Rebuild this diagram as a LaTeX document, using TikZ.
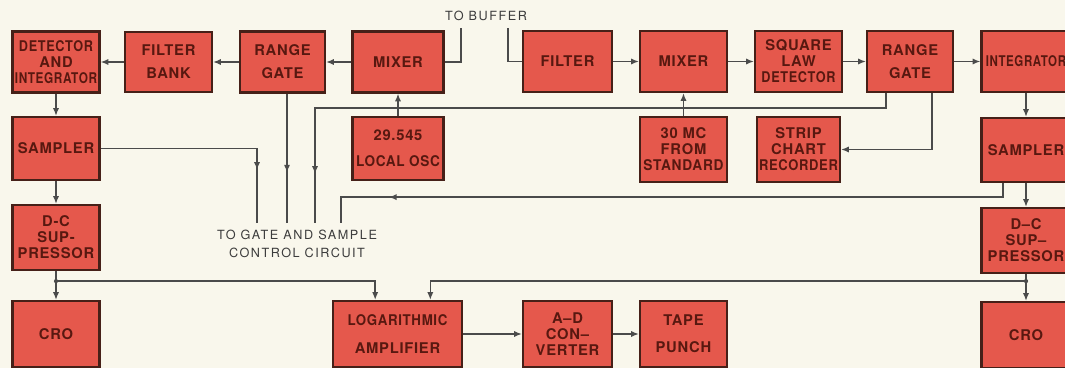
\documentclass[tikz,border=0pt]{standalone}
\usepackage{graphicx}
\usepackage{fontspec}
\setsansfont{TeX Gyre Heros}
\newfontfamily\boxfont[LetterSpace=5]{TeX Gyre Heros}
\newfontfamily\notefont[LetterSpace=12]{TeX Gyre Heros}
\usetikzlibrary{arrows.meta,positioning,calc,decorations.markings}

\definecolor{paper}{RGB}{249,247,236}
\definecolor{boxred}{RGB}{229,88,76}
\definecolor{boxedge}{RGB}{70,32,24}
\definecolor{boxtext}{RGB}{88,24,16}
\definecolor{wiregray}{RGB}{75,75,75}
\definecolor{notegray}{RGB}{60,60,60}
\newcommand\squeeze[2][0.86]{\scalebox{#1}[1]{#2}}

\begin{document}
\begin{tikzpicture}[x=0.025cm,y=-0.025cm,
  blk/.style={draw=boxedge,line width=1.6pt,fill=boxred,text=boxtext,align=center,
    font=\boxfont\bfseries\fontsize{10.5}{11.4}\selectfont,inner sep=0pt},
  wire/.style={draw=wiregray,line width=1pt},
  msg/.style={wire,-{Latex[length=5.5pt,width=4.4pt]}},
  mid/.style={wire,postaction={decorate},
    decoration={markings,mark=at position #1 with {\arrow{Latex[length=5.5pt,width=4.4pt]}}}},
  note/.style={text=notegray,align=center,font=\notefont\fontsize{9}{13}\selectfont},
]
  \useasboundingbox (0,0) rectangle (1065,368);
  \clip (0,0) rectangle (1065,368);
  \fill[paper] (0,0) rectangle (1065,368);

  % blocks
  \foreach \n/\x/\y/\w/\h/\t in {
      det/56/62/87/61/{\squeeze{DETECTOR}\\AND\\\squeeze[0.8]{INTEGRATOR}},
      fbank/168.5/62/87/60/{FILTER\\[5pt]BANK},
      rgl/282.5/62/85/61/{RANGE\\[5pt]GATE},
      mixl/398/62/91/61/{MIXER},
      oscl/398/148.5/91/63/{29.545\\[7pt]\squeeze[0.92]{LOCAL OSC}},
      sampl/56/148.5/87/63/{SAMPLER},
      dcl/56/237.5/87/65/{D-C\\SUP-\\PRESSOR},
      crol/56/334/87/66/{CRO},
      log/397.5/334/129/66/{\squeeze[0.9]{LOGARITHMIC}\\[8pt]AMPLIFIER},
      adc/567.5/334/89/66/{A\textendash D\\CON\textendash\\VERTER},
      tape/683.5/334/87/66/{TAPE\\[8pt]PUNCH},
      filt/567.5/61.5/89/61/{FILTER},
      mixr/683.5/61.5/87/61/{MIXER},
      sqd/798.5/61.5/87/61/{SQUARE\\LAW\\\squeeze{DETECTOR}},
      rgr/910/61.5/86/61/{RANGE\\[5pt]GATE},
      integ/1026/61.5/89/61/{\squeeze[0.78]{INTEGRATOR}},
      mc/683.5/149.5/87/65/{30 MC\\FROM\\\squeeze[0.93]{STANDARD}},
      strip/798.5/149.5/83/65/{STRIP\\CHART\\\squeeze[0.88]{RECORDER}},
      sampr/1026/150/89/64/{SAMPLER},
      dcr/1026/240.5/89/65/{D\textendash C\\SUP\textendash\\PRESSOR},
      cror/1026/335/89/66/{CRO}} {
    \node[blk,minimum width=\w*0.025cm,minimum height=\h*0.025cm] (\n) at (\x,\y) {\t};
  }

  % labels and free ends
  \node[note] (buf) at (486,16) {TO BUFFER};
  \node[note] (ctl) at (297,244) {TO GATE AND SAMPLE\\CONTROL CIRCUIT};
  \coordinate (bufl) at (461,28);
  \coordinate (bufr) at (508,28);
  \foreach \i/\x in {1/257,2/287,3/315,4/341}
    \coordinate (g\i) at (\x,223);
  \coordinate (jl) at ($(dcl.south)+(0,10)$);
  \coordinate (jr) at ($(dcr.south)+(0,7)$);

  % left chain
  \draw[msg] (mixl) -- (rgl);
  \draw[msg] (rgl) -- (fbank);
  \draw[msg] (fbank) -- (det);
  \draw[msg] (det) -- (sampl);
  \draw[msg] (sampl) -- (dcl);
  \draw[msg] (dcl) -- (crol);
  \draw[msg] (oscl) -- (mixl);
  \draw[wire] (mixl.east) -| (bufl);

  % right chain
  \draw[wire] (bufr) |- (filt.west);
  \draw[msg] (filt) -- (mixr);
  \draw[msg] (mixr) -- (sqd);
  \draw[msg] (sqd) -- (rgr);
  \draw[msg] (rgr) -- (integ);
  \draw[msg] (mc) -- (mixr);
  \draw[msg] (integ) -- (sampr);
  \draw[msg] (sampr) -- (dcr);
  \draw[msg] (dcr) -- (cror);
  \draw[msg] ($(rgr.south west)!0.75!(rgr.south east)$) |- (strip.east);

  % to gate and sample control
  \draw[mid=0.77] (sampl.east) -| (g1);
  \draw[mid=0.61] (rgl.south -| g2) -- (g2);
  \draw[mid=0.93] ($(rgr.south west)!0.23!(rgr.south east)$) -- ++(0,15) -| (g3);
  \draw[mid=0.895] ($(sampr.south west)!0.25!(sampr.south east)$) -- ++(0,14) -| (g4);

  % to log amplifier
  \draw[msg] (jl) -| ($(log.north west)!0.33!(log.north east)$);
  \draw[msg] (jr) -| ($(log.north west)!0.75!(log.north east)$);
  \fill[wiregray] (jl) circle (1.5pt) (jr) circle (1.5pt);
  \draw[msg] (log) -- (adc);
  \draw[msg] (adc) -- (tape);
\end{tikzpicture}
\end{document}
